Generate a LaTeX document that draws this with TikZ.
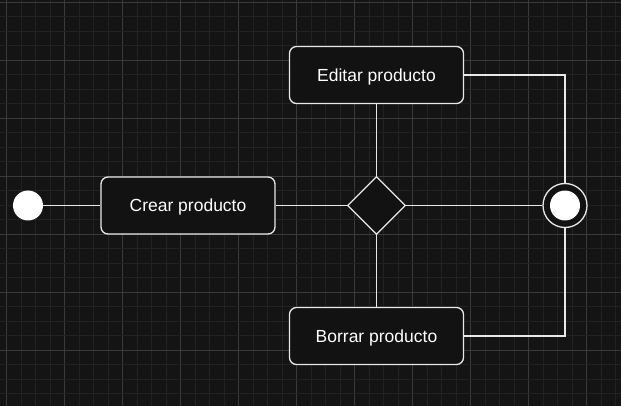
\documentclass[tikz,border=0pt]{standalone}
\usepackage{fontspec}
\setmainfont{Liberation Sans}
\usetikzlibrary{shapes.geometric}

\definecolor{fondo}{HTML}{141414}
\definecolor{rejilla}{HTML}{222222}
\definecolor{rejillamayor}{HTML}{3A3A3A}
\definecolor{caja}{HTML}{121212}
\definecolor{borde}{HTML}{E8E8E8}

\begin{document}
\begin{tikzpicture} [x=1pt,y=-1pt,
  estado/.style={draw=borde, fill=caja, line width=1.3pt, rounded corners=7pt,
    minimum width=174pt, minimum height=57pt, inner sep=0pt, text depth=0pt,
    text=white, font=\fontsize{17.5}{20}\selectfont},
  decision/.style={draw=borde, fill=caja, line width=1.3pt, diamond,
    minimum width=58pt, minimum height=58pt, inner sep=0pt},
  flujo/.style={draw=borde, line width=1.3pt}]

\useasboundingbox (0,0) rectangle (621,406);
\fill [fondo] (0,0) rectangle (621,406);

% rejilla
\foreach \i in {0,...,42} {
  \pgfmathtruncatemacro{\m}{mod(\i,4)}
  \ifnum\m=0
    \draw [rejillamayor, line width=0.8pt] (6.7+14.5*\i,0) -- (6.7+14.5*\i,406);
  \else
    \draw [rejilla, line width=0.8pt] (6.7+14.5*\i,0) -- (6.7+14.5*\i,406);
  \fi
}
\foreach \j in {0,...,27} {
  \pgfmathtruncatemacro{\m}{mod(\j,4)}
  \ifnum\m=0
    \draw [rejillamayor, line width=0.8pt] (0,2+14.5*\j) -- (621,2+14.5*\j);
  \else
    \draw [rejilla, line width=0.8pt] (0,2+14.5*\j) -- (621,2+14.5*\j);
  \fi
}

\node [circle, fill=white, minimum size=30pt, inner sep=0pt] (inicio) at (28,205.5) {};
\node [estado] (crear) at (188,205.5) {Crear producto};
\node [decision] (dec) at (376.5,205.5) {};
\node [estado] (editar) at (376.5,75) {Editar producto};
\node [estado] (borrar) at (376.5,336) {Borrar producto};
\node [circle, draw=borde, fill=caja, line width=1.3pt, minimum size=44pt, inner sep=0pt] (fin) at (565,205.5) {};
\node [circle, fill=white, minimum size=30pt, inner sep=0pt] (finint) at (fin) {};

\draw [flujo] (inicio)--(crear)--(dec)--(fin) ;
\draw [flujo] (dec)--(editar) ;
\draw [flujo] (dec)--(borrar) ;
\draw [flujo] (editar) -| (fin) ;
\draw [flujo] (borrar) -| (fin) ;

\end{tikzpicture}
\end{document}
